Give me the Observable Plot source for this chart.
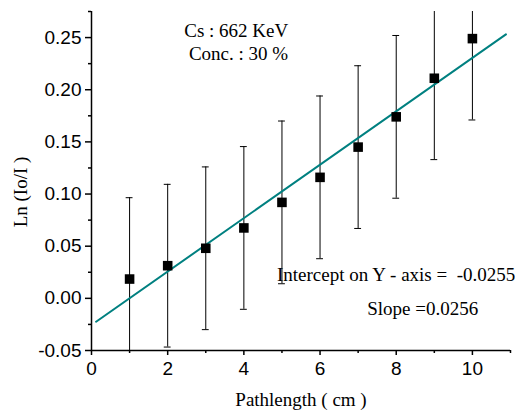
<!DOCTYPE html>
<html><head><meta charset="utf-8">
<script src="https://cdn.jsdelivr.net/npm/d3@7"></script>
<script src="https://cdn.jsdelivr.net/npm/@observablehq/plot@0.6"></script>
<style>body{margin:0;background:#fff}</style>
</head><body><div id="chart"></div>
<script>
// Data
const pathlength = [1, 2, 3, 4, 5, 6, 7, 8, 9, 10];
const lnRatio = [0.0185, 0.0313, 0.048, 0.0675, 0.092, 0.116, 0.145, 0.174, 0.211, 0.249];
const errHalf = [0.078, 0.078, 0.078, 0.078, 0.078, 0.078, 0.078, 0.078, 0.078, 0.078];
const intercept = -0.0255;
const slope = 0.0256;
const fitRange = [0.12, 10.88];
const xTicks = [0, 2, 4, 6, 8, 10];
const xMinor = [1, 3, 5, 7, 9, 11];
const yTicks = [-0.05, 0, 0.05, 0.10, 0.15, 0.20, 0.25];
const yMinor = [-0.025, 0.025, 0.075, 0.125, 0.175, 0.225, 0.275];
const sourceNotes = [
  {x: 3.8, y: 0.2565, text: "Cs : 662 KeV"},
  {x: 3.86, y: 0.234, text: "Conc. : 30 %"}
];
const fitNotes = [
  {x: 4.87, y: 0.0229, text: "Intercept on Y - axis =\u00a0 -0.0255"},
  {x: 7.24, y: -0.0097, text: "Slope =0.0256"}
];

const points = pathlength.map((x, i) => ({x, y: lnRatio[i], lo: lnRatio[i] - errHalf[i], hi: lnRatio[i] + errHalf[i]}));
const fit = fitRange.map(x => ({x, y: intercept + slope * x}));
const capHalf = 0.09;
const sans = "'Liberation Sans', Arial, sans-serif";
const serif = "'Liberation Serif', 'Times New Roman', serif";

const chart = Plot.plot({
  width: 515,
  height: 416,
  marginLeft: 91,
  marginRight: 5,
  marginTop: 11,
  marginBottom: 66,
  style: {fontFamily: sans, background: "#fff", color: "#000"},
  x: {domain: [0, 11]},
  y: {domain: [-0.05, 0.275]},
  marks: [
    Plot.ruleX(points, {x: "x", y1: "lo", y2: "hi", stroke: "#000", strokeWidth: 1, clip: true}),
    Plot.ruleY(points, {y: "hi", x1: d => d.x - capHalf, x2: d => d.x + capHalf, stroke: "#000", strokeWidth: 1, clip: true}),
    Plot.ruleY(points, {y: "lo", x1: d => d.x - capHalf, x2: d => d.x + capHalf, stroke: "#000", strokeWidth: 1, clip: true}),
    Plot.line(fit, {x: "x", y: "y", stroke: "#008080", strokeWidth: 2}),
    Plot.dot(points, {x: "x", y: "y", symbol: "square", r: 5.4, fill: "#000", stroke: "none"}),
    Plot.axisX({ticks: xTicks, tickSize: 5, tickPadding: 6, tickFormat: d => String(d), fontSize: 19, label: null, strokeWidth: 1.5}),
    Plot.axisX({ticks: xMinor, tickSize: 3, text: null, label: null, strokeWidth: 1.5}),
    Plot.axisY({ticks: yTicks, tickSize: 6, tickPadding: 4, tickFormat: d => d.toFixed(2), fontSize: 19, label: null, strokeWidth: 1.5}),
    Plot.axisY({ticks: yMinor, tickSize: 3, text: null, label: null, strokeWidth: 1.5}),
    Plot.ruleX([0], {stroke: "#000", strokeWidth: 1.5}),
    Plot.ruleY([-0.05], {stroke: "#000", strokeWidth: 1.5}),
    Plot.text(sourceNotes, {x: "x", y: "y", text: "text", textAnchor: "middle", fontFamily: serif, fontSize: 19, fill: "#000"}),
    Plot.text(fitNotes, {x: "x", y: "y", text: "text", textAnchor: "start", fontFamily: serif, fontSize: 19, fill: "#000"}),
    Plot.text(["Pathlength ( cm )"], {frameAnchor: "bottom", dy: 55, textAnchor: "middle", fontFamily: serif, fontSize: 19, fill: "#000"}),
    Plot.text(["Ln (Io/I )"], {frameAnchor: "left", dx: -71, dy: 11, rotate: -90, textAnchor: "middle", fontFamily: serif, fontSize: 19, fill: "#000"})
  ]
});
document.getElementById("chart").append(chart);
</script>
</body></html>
